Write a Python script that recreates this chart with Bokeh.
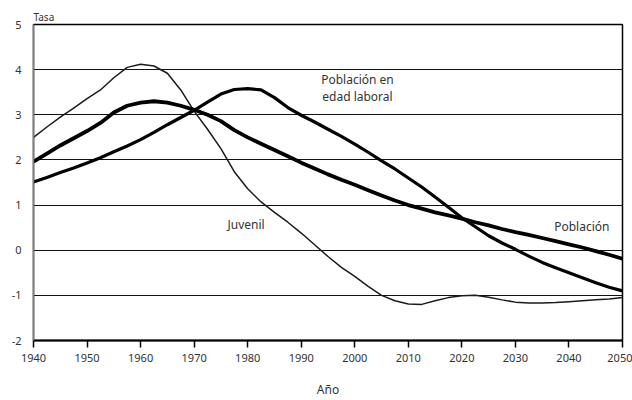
from bokeh.plotting import figure
from bokeh.models import Range1d, FixedTicker, PrintfTickFormatter, Label
from bokeh.embed import file_html
from bokeh.resources import INLINE

years = [1940 + 2.5 * i for i in range(45)]
juvenil = [2.50, 2.73, 2.95, 3.15, 3.36, 3.55, 3.82, 4.05, 4.12, 4.08, 3.92, 3.55,
           3.08, 2.68, 2.25, 1.74, 1.36, 1.07, 0.84, 0.62, 0.38, 0.12, -0.14, -0.38,
           -0.58, -0.80, -1.00, -1.12, -1.19, -1.20, -1.12, -1.05, -1.01, -1.00, -1.04,
           -1.10, -1.15, -1.17, -1.17, -1.16, -1.14, -1.12, -1.10, -1.08, -1.05]
poblacion = [1.96, 2.14, 2.32, 2.48, 2.64, 2.82, 3.05, 3.20, 3.27, 3.30, 3.27, 3.20,
             3.11, 3.00, 2.86, 2.66, 2.50, 2.36, 2.22, 2.08, 1.94, 1.81, 1.68, 1.56,
             1.45, 1.33, 1.21, 1.10, 1.00, 0.92, 0.84, 0.77, 0.70, 0.62, 0.55,
             0.47, 0.40, 0.34, 0.27, 0.20, 0.13, 0.06, -0.02, -0.10, -0.19]
edad_laboral = [1.51, 1.61, 1.72, 1.82, 1.93, 2.05, 2.18, 2.31, 2.45, 2.61, 2.78, 2.94,
                3.10, 3.28, 3.46, 3.56, 3.58, 3.55, 3.38, 3.16, 2.99, 2.84, 2.68, 2.52,
                2.35, 2.17, 1.98, 1.80, 1.60, 1.40, 1.18, 0.95, 0.72, 0.52, 0.32,
                0.16, 0.02, -0.13, -0.27, -0.39, -0.50, -0.61, -0.72, -0.82, -0.90]
x_ticks = [1940, 1950, 1960, 1970, 1980, 1990, 2000, 2010, 2020, 2030, 2040, 2050]
y_ticks = [-2, -1, 0, 1, 2, 3, 4, 5]

FONT = "Noto Sans"
TXT = "#333333"

p = figure(width=632, height=400, output_backend="svg", toolbar_location=None,
           x_range=Range1d(1940, 2050), y_range=Range1d(-2, 5),
           min_border_left=33, min_border_right=10, min_border_top=24, min_border_bottom=60)
p.background_fill_color = "white"
p.border_fill_color = "white"
p.outline_line_color = "black"
p.outline_line_width = 1.5

p.title.text = "Tasa"
p.title.text_font = FONT
p.title.text_font_size = "10px"
p.title.text_font_style = "normal"
p.title.text_color = TXT
p.title.align = "left"
p.title.offset = 0
p.title.standoff = 2

p.xgrid.visible = False
p.ygrid.grid_line_color = "#111111"
p.ygrid.grid_line_width = 1.2
p.ygrid.ticker = FixedTicker(ticks=y_ticks)

p.xaxis.ticker = FixedTicker(ticks=x_ticks)
p.yaxis.ticker = FixedTicker(ticks=y_ticks)
p.yaxis.formatter = PrintfTickFormatter(format="%d")
p.xaxis.formatter = PrintfTickFormatter(format="%d")
p.xaxis.axis_label = "Año"
p.xaxis.axis_label_text_font = FONT
p.xaxis.axis_label_text_font_size = "12px"
p.xaxis.axis_label_text_font_style = "normal"
p.xaxis.axis_label_text_color = TXT
p.xaxis.axis_label_standoff = 16
p.xaxis.axis_line_color = "black"
p.xaxis.axis_line_width = 2
p.xaxis.major_tick_line_color = "black"
p.xaxis.major_tick_line_width = 1.5
p.xaxis.major_tick_out = 7
p.xaxis.major_tick_in = 0
p.xaxis.minor_tick_line_color = None
p.xaxis.major_label_standoff = 6

p.yaxis.axis_line_color = "#808080"
p.yaxis.axis_line_width = 1.5
p.yaxis.major_tick_line_color = None
p.yaxis.minor_tick_line_color = None
p.yaxis.major_tick_out = 0
p.yaxis.major_tick_in = 0
p.yaxis.major_label_standoff = 12

for ax in (p.xaxis, p.yaxis):
    ax.major_label_text_font = FONT
    ax.major_label_text_font_size = "11px"
    ax.major_label_text_color = TXT

p.line(years, juvenil, line_color="#1a1a1a", line_width=1.5, line_join="round")
p.line(years, edad_laboral, line_color="black", line_width=3.2, line_join="round")
p.line(years, poblacion, line_color="black", line_width=3.8, line_join="round")

def lab(x, y, t, align="center", size="12px", base="middle"):
    p.add_layout(Label(x=x, y=y, text=t, text_font=FONT, text_font_size=size,
                       text_color=TXT, text_align=align, text_baseline=base))

lab(2000.5, 3.79, "Población en")
lab(2000.5, 3.41, "edad laboral")
lab(1979.7, 0.58, "Juvenil")
lab(2042.4, 0.52, "Población")

open("out.html", "w").write(file_html(p, INLINE))
